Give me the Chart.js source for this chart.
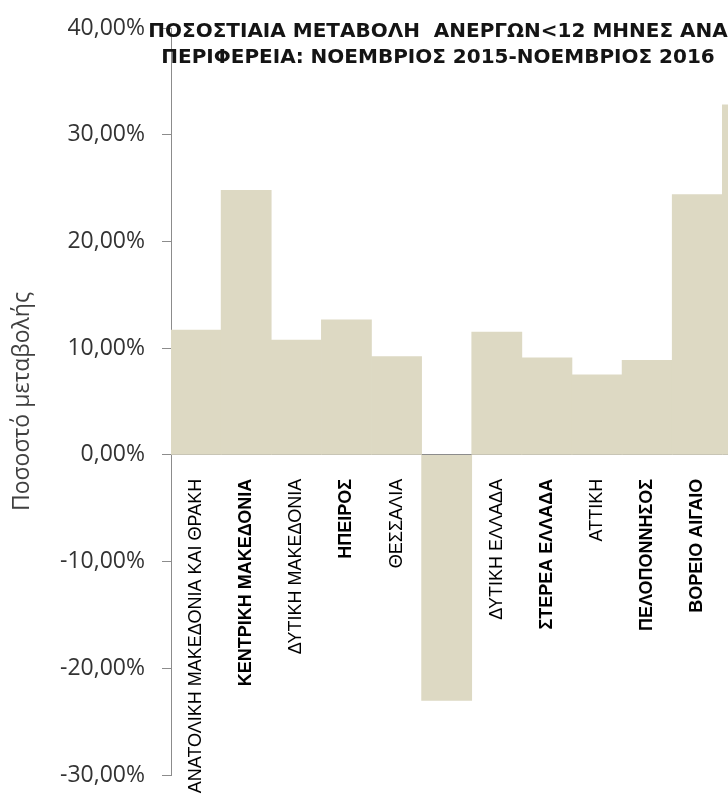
<!DOCTYPE html>
<html>
<head>
<meta charset="utf-8">
<script src="https://cdn.jsdelivr.net/npm/chart.js@4.4.1/dist/chart.umd.min.js"></script>
<style>
  html, body { margin: 0; padding: 0; background: #fff; overflow: hidden; }
  #wrap { width: 793px; height: 800px; position: relative; }
</style>
</head>
<body>
<div id="wrap"><canvas id="chart"></canvas></div>
<script>
// regions (the chart is cut off on the right after the 12th bar)
const regions = [
  'ΑΝΑΤΟΛΙΚΗ ΜΑΚΕΔΟΝΙΑ ΚΑΙ ΘΡΑΚΗ',
  'ΚΕΝΤΡΙΚΗ ΜΑΚΕΔΟΝΙΑ',
  'ΔΥΤΙΚΗ ΜΑΚΕΔΟΝΙΑ',
  'ΗΠΕΙΡΟΣ',
  'ΘΕΣΣΑΛΙΑ',
  'ΙΟΝΙΑ ΝΗΣΙΑ',
  'ΔΥΤΙΚΗ ΕΛΛΑΔΑ',
  'ΣΤΕΡΕΑ ΕΛΛΑΔΑ',
  'ΑΤΤΙΚΗ',
  'ΠΕΛΟΠΟΝΝΗΣΟΣ',
  'ΒΟΡΕΙΟ ΑΙΓΑΙΟ',
  'ΝΟΤΙΟ ΑΙΓΑΙΟ'
];
// % change, Nov 2015 - Nov 2016
const changePct = [11.7, 24.8, 10.75, 12.65, 9.2, -23.0, 11.5, 9.1, 7.5, 8.85, 24.4, 32.8];

const yTicks = [-30, -20, -10, 0, 10, 20, 30, 40];

const titleLines = [
  'ΠΟΣΟΣΤΙΑΙΑ ΜΕΤΑΒΟΛΗ  ΑΝΕΡΓΩΝ<12 ΜΗΝΕΣ ΑΝΑ',
  'ΠΕΡΙΦΕΡΕΙΑ: ΝΟΕΜΒΡΙΟΣ 2015-ΝΟΕΜΒΡΙΟΣ 2016'
];
const yTitle = 'Ποσοστό μεταβολής';

const boldLabel = [false, true, false, true, false, true, false, true, false, true, true, true];

const fmtPct = v => v.toFixed(2).replace('.', ',') + '%';

// title sits on top of the plot, like the original
const overlayTitle = {
  id: 'overlayTitle',
  afterDraw(chart) {
    const c = chart.ctx;
    c.save();
    c.font = 'bold 20px "DejaVu Sans"';
    c.fillStyle = '#141414';
    c.textAlign = 'center';
    c.textBaseline = 'alphabetic';
    c.fillText(titleLines[0], 438, 37);
    c.fillText(titleLines[1], 438, 63);
    c.restore();
  }
};

new Chart(document.getElementById('chart'), {
  type: 'bar',
  data: {
    labels: regions,
    datasets: [{
      data: changePct,
      backgroundColor: '#DDD9C3',
      borderWidth: 0,
      categoryPercentage: 1,
      barPercentage: 1
    }]
  },
  options: {
    responsive: true,
    maintainAspectRatio: false,
    animation: false,
    layout: { padding: { top: 28, bottom: 25, left: 0, right: 0 } },
    plugins: {
      legend: { display: false },
      tooltip: { enabled: false },
      title: { display: false }
    },
    scales: {
      x: {
        position: { y: 0 },
        grid: { display: false, drawTicks: false },
        border: { display: true, color: '#8c8c8c', width: 1 },
        ticks: {
          autoSkip: false,
          minRotation: 90,
          maxRotation: 90,
          padding: 24,
          color: '#000',
          font: ctx => ({
            family: '"Liberation Sans"',
            size: 18,
            weight: boldLabel[ctx.index] ? 'bold' : 'normal'
          })
        },
        afterFit(scale) { scale.height = 0; }
      },
      y: {
        min: -30,
        max: 40,
        grid: { display: true, drawOnChartArea: false, tickLength: 9, color: '#8c8c8c' },
        border: { display: true, color: '#8c8c8c', width: 1 },
        afterBuildTicks(scale) { scale.ticks = yTicks.map(v => ({ value: v })); },
        ticks: {
          padding: 17,
          color: '#333',
          font: { family: '"Open Sans"', size: 23 },
          callback: v => fmtPct(v)
        },
        title: {
          display: true,
          text: yTitle,
          color: '#404040',
          font: { family: '"Open Sans"', size: 23 },
          padding: { top: 9, bottom: 0 }
        },
        afterFit(scale) {
          scale.width = 171;
          scale.paddingTop = 0;
          scale.paddingBottom = 0;
        }
      }
    }
  },
  plugins: [overlayTitle]
});
</script>
</body>
</html>
